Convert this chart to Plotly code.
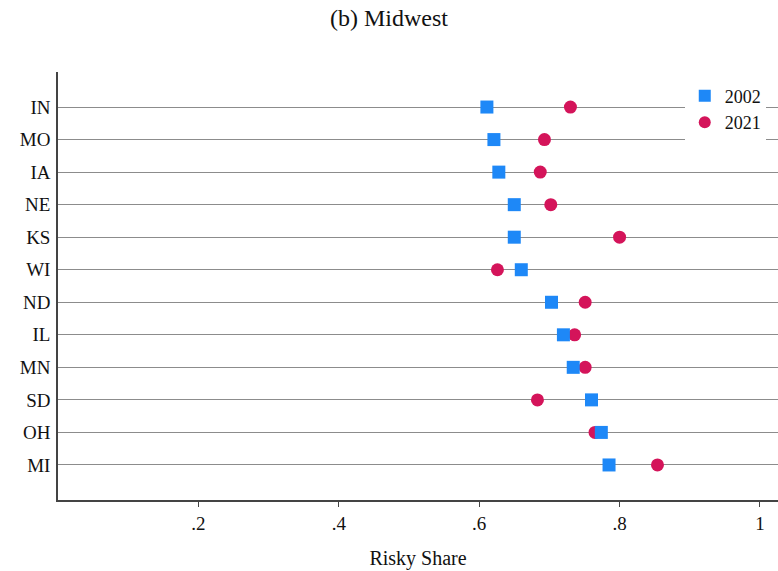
import plotly.graph_objects as go

# Midwest states, top to bottom
states = ["IN", "MO", "IA", "NE", "KS", "WI", "ND", "IL", "MN", "SD", "OH", "MI"]
share_2002 = [0.611, 0.621, 0.628, 0.650, 0.650, 0.660, 0.703, 0.720, 0.734, 0.760, 0.774, 0.785]
share_2021 = [0.730, 0.693, 0.687, 0.702, 0.800, 0.626, 0.751, 0.736, 0.751, 0.683, 0.765, 0.854]

x_ticks = [0.2, 0.4, 0.6, 0.8, 1.0]
x_tick_text = [".2", ".4", ".6", ".8", "1"]

SERIF = "Liberation Serif"
BLUE = "#1E88F7"
RED = "#D4145A"
INK = "#111111"

fig = go.Figure()
fig.add_trace(go.Scatter(
    x=share_2021, y=states, mode="markers", name="2021",
    marker=dict(symbol="circle", size=13, color=RED, line=dict(width=0)),
    legendrank=2,
))
fig.add_trace(go.Scatter(
    x=share_2002, y=states, mode="markers", name="2002",
    marker=dict(symbol="square", size=13, color=BLUE, line=dict(width=0)),
    legendrank=1,
))

fig.update_layout(
    width=778, height=571,
    margin=dict(l=58, r=0, t=72, b=71),
    paper_bgcolor="white", plot_bgcolor="white",
    font=dict(family=SERIF, size=18, color=INK),
    title=dict(text="(b) Midwest", x=0.5, xanchor="center",
               y=1 - 18 / 571, yanchor="middle", yref="container",
               font=dict(family=SERIF, size=24, color=INK)),
    showlegend=True,
    legend=dict(x=0.983, xanchor="right", y=0.987, yanchor="top",
                bgcolor="white", borderwidth=0,
                font=dict(family=SERIF, size=18, color=INK),
                itemsizing="constant", tracegroupgap=0),
)
fig.update_xaxes(
    range=[0, 1.0257], tickvals=x_ticks, ticktext=x_tick_text,
    showgrid=False, zeroline=False,
    showline=True, linecolor="#444", linewidth=1.5,
    ticks="outside", ticklen=5, tickwidth=1.2, tickcolor="#444",
    tickfont=dict(family=SERIF, size=19, color=INK),
    title=dict(text="Risky Share", standoff=18,
               font=dict(family=SERIF, size=20, color=INK)),
)
fig.update_yaxes(
    type="category", categoryorder="array", categoryarray=states,
    range=[len(states) - 1 + 1.077, -1.077],
    showgrid=True, gridcolor="#8c8c8c", gridwidth=1.2,
    zeroline=False, showline=True, linecolor="#444", linewidth=1.5,
    ticks="", ticklabelstandoff=2,
    tickfont=dict(family=SERIF, size=19, color=INK),
)

fig.write_html("out.html")
